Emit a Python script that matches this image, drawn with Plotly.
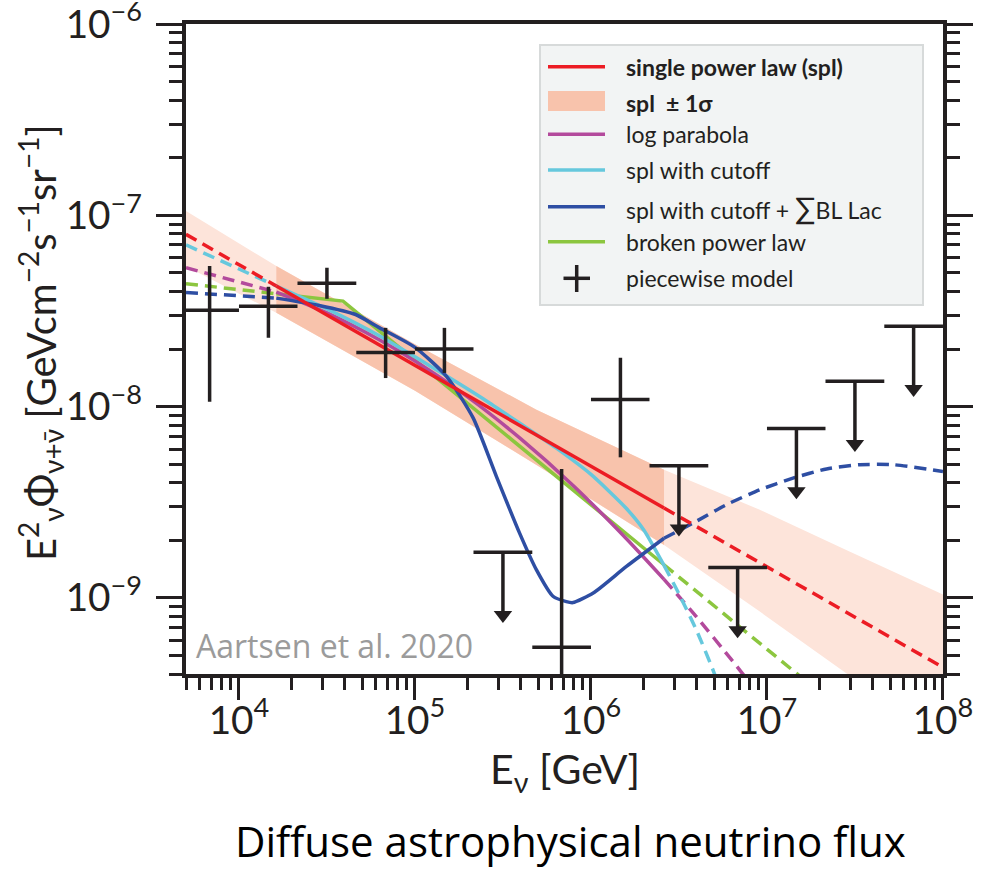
import numpy as np
import plotly.graph_objects as go

# ---------------- data (E in GeV, E^2*flux in GeV cm^-2 s^-1 sr^-1) ----------------
E_SENS_LO = 1.63e4   # sensitive energy range (solid lines / dark band)
E_SENS_HI = 2.6e6

spl_E = [5.0e3, 1.63e4, 1.0e5, 1.0e6, 2.6e6, 1.0e8]
spl_F = [7.95e-8, 4.27e-8, 1.64e-8, 4.89e-9, 2.95e-9, 4.33e-10]

band_E = [5.0e3, 1.63e4, 1.0e5, 4.9e5, 2.6e6, 9.1e6, 2.82e7, 1.0e8]
band_hi = [1.053e-7, 5.43e-8, 2.12e-8, 9.64e-9, 4.68e-9, 2.89e-9, 1.78e-9, 1.04e-9]
band_lo = [5.41e-8, 3.09e-8, 1.21e-8, 4.95e-9, 1.89e-9, 8.48e-10, 4.04e-10, 1.80e-10]

lp_E = [5.0e3, 1.63e4, 3.16e4, 6.3e4, 1.0e5, 2.0e5, 3.98e5, 7.94e5, 1.58e6, 2.6e6, 3.98e6, 6.3e6, 7.94e6]
lp_F = [5.32e-8, 3.97e-8, 3.09e-8, 2.23e-8, 1.73e-8, 1.12e-8, 6.8e-9, 3.86e-9, 2.05e-9, 1.25e-9, 7.95e-10, 4.74e-10, 3.62e-10]

cut_E = [5.0e3, 1.63e4, 3.16e4, 6.3e4, 1.0e5, 1.58e5, 2.51e5, 3.98e5, 6.3e5, 1.0e6, 1.58e6, 2.0e6, 2.6e6, 3.16e6, 3.98e6, 5.0e6, 5.6e6]
cut_F = [7.0e-8, 4.27e-8, 3.24e-8, 2.34e-8, 1.82e-8, 1.41e-8, 1.08e-8, 8.13e-9, 6.10e-9, 4.42e-9, 2.95e-9, 2.26e-9, 1.48e-9, 1.05e-9, 6.76e-10, 4.07e-10, 3.02e-10]

bll_E = [5.0e3, 1.63e4, 2.85e4, 4.6e4, 6.3e4, 1.0e5, 1.51e5, 2.14e5, 2.9e5, 3.93e5, 4.9e5, 6.08e5, 7.25e5, 7.9e5,
         1.03e6, 1.59e6, 2.6e6, 3.8e6, 5.88e6, 9.09e6, 1.405e7, 2.18e7, 3.36e7, 5.2e7, 1.0e8]
bll_F = [3.95e-8, 3.69e-8, 3.38e-8, 3.03e-8, 2.58e-8, 2.04e-8, 1.44e-8, 8.73e-9, 4.32e-9, 2.18e-9, 1.40e-9, 1.02e-9, 9.56e-10, 9.45e-10,
         1.06e-9, 1.46e-9, 2.05e-9, 2.46e-9, 3.07e-9, 3.67e-9, 4.23e-9, 4.72e-9, 4.97e-9, 4.97e-9, 4.58e-9]

bpl_E = [5.0e3, 1.63e4, 3.9e4, 2.6e6, 1.78e7]
bpl_F = [4.39e-8, 3.89e-8, 3.56e-8, 1.49e-9, 3.49e-10]

# piecewise model: measured bins
pw_E = [6.81e3, 1.47e4, 3.16e4, 6.81e4, 1.47e5, 6.81e5, 1.47e6]
pw_Elo = [4.64e3, 1.0e4, 2.15e4, 4.64e4, 1.0e5, 4.64e5, 1.0e6]
pw_Ehi = [1.0e4, 2.15e4, 4.64e4, 1.0e5, 2.15e5, 1.0e6, 2.15e6]
pw_F = [3.19e-8, 3.35e-8, 4.41e-8, 1.92e-8, 2.0e-8, 5.52e-10, 1.09e-8]
pw_Fup = [5.43e-8, 4.23e-8, 5.32e-8, 2.58e-8, 2.58e-8, 4.72e-9, 1.80e-8]
pw_Fdn = [1.06e-8, 2.29e-8, 3.66e-8, 1.41e-8, 1.50e-8, 1.0e-12, 5.43e-9]

# piecewise model: upper limits
ul_E = [3.16e5, 3.16e6, 6.81e6, 1.47e7, 3.16e7, 6.81e7]
ul_Elo = [2.15e5, 2.15e6, 4.64e6, 1.0e7, 2.15e7, 4.64e7]
ul_Ehi = [4.64e5, 4.64e6, 1.0e7, 2.15e7, 4.64e7, 1.0e8]
ul_F = [1.73e-9, 4.91e-9, 1.44e-9, 7.69e-9, 1.355e-8, 2.63e-8]

# ---------------- styles ----------------
C_RED = "#ec1c24"
C_CYAN = "#66c8dd"
C_MAG = "#b34a9c"
C_BLUE = "#2e4ea3"
C_GREEN = "#8cc63f"
C_BLACK = "#231f20"
C_BAND_DARK = "#f8c3ac"
C_BAND_LIGHT = "#fde4da"
LW = 3.5
DASH = "12px,7px"
ARROW_STEM = 0.33   # decades
ARROW_HEAD = 0.328  # decades (marker centre)

PL, PR, PT, PB = 186, 943, 24, 674
W, H = 999, 869


def px(x):
    return (x - PL) / (PR - PL)


def py(y):
    return 1 - (y - PT) / (PB - PT)


def split(E, F):
    lo = [(e, f) for e, f in zip(E, F) if e <= E_SENS_LO]
    mid = [(e, f) for e, f in zip(E, F) if E_SENS_LO <= e <= E_SENS_HI]
    hi = [(e, f) for e, f in zip(E, F) if e >= E_SENS_HI]
    return lo, mid, hi


fig = go.Figure()

# band (light full, dark in sensitive range)
fig.add_trace(go.Scatter(x=band_E + band_E[::-1], y=band_hi + band_lo[::-1], fill="toself",
                         fillcolor=C_BAND_LIGHT, line=dict(width=0), mode="lines", hoverinfo="skip"))
idx = [i for i, e in enumerate(band_E) if E_SENS_LO <= e <= E_SENS_HI]
bE = [band_E[i] for i in idx]
fig.add_trace(go.Scatter(x=bE + bE[::-1], y=[band_hi[i] for i in idx] + [band_lo[i] for i in idx][::-1],
                         fill="toself", fillcolor=C_BAND_DARK, line=dict(width=0), mode="lines", hoverinfo="skip"))

curves = [
    (bpl_E, bpl_F, C_GREEN, "linear"),
    (lp_E, lp_F, C_MAG, "spline"),
    (cut_E, cut_F, C_CYAN, "spline"),
    (bll_E, bll_F, C_BLUE, "spline"),
    (spl_E, spl_F, C_RED, "linear"),
]
for E, F, col, shape in curves:
    lo, mid, hi = split(E, F)
    for seg, dash in ((lo, DASH), (mid, "solid"), (hi, DASH)):
        if len(seg) < 2:
            continue
        fig.add_trace(go.Scatter(x=[s[0] for s in seg], y=[s[1] for s in seg], mode="lines",
                                 line=dict(color=col, width=LW, dash=dash, shape=shape, smoothing=0.6),
                                 hoverinfo="skip"))

# crosses
cx, cy = [], []
for e, elo, ehi, f, fu, fd in zip(pw_E, pw_Elo, pw_Ehi, pw_F, pw_Fup, pw_Fdn):
    cx += [elo, ehi, None, e, e, None]
    cy += [f, f, None, fd, fu, None]
fig.add_trace(go.Scatter(x=cx, y=cy, mode="lines", line=dict(color=C_BLACK, width=LW), hoverinfo="skip"))

# upper limits
ux, uy = [], []
for e, elo, ehi, f in zip(ul_E, ul_Elo, ul_Ehi, ul_F):
    ux += [elo, ehi, None, e, e, None]
    uy += [f, f, None, f, f * 10 ** (-ARROW_STEM), None]
fig.add_trace(go.Scatter(x=ux, y=uy, mode="lines", line=dict(color=C_BLACK, width=LW), hoverinfo="skip"))
fig.add_trace(go.Scatter(x=ul_E, y=[f * 10 ** (-ARROW_HEAD) for f in ul_F], mode="markers",
                         marker=dict(symbol="triangle-down", size=16, color=C_BLACK, line=dict(width=0)),
                         hoverinfo="skip"))

# ---------------- layout ----------------
tickfont = dict(family="Liberation Sans Narrow, Lato", size=31, color=C_BLACK)
axis_common = dict(type="log", dtick=1, exponentformat="power", showexponent="all", automargin=False,
                   ticks="outside", tickwidth=3, tickcolor=C_BLACK, showgrid=False, zeroline=False,
                   linecolor=C_BLACK, linewidth=3.5, tickfont=tickfont, ticklabeloverflow="allow",
                   minor=dict(ticks="outside", tickwidth=3, tickcolor=C_BLACK, showgrid=False))

fig.update_xaxes(**axis_common, range=[np.log10(5e3), 8.0001], ticklen=22, mirror=True, ticklabelstandoff=-11)
fig.update_xaxes(minor_ticklen=12)
fig.update_yaxes(**axis_common, range=[np.log10(4e-10), -5.9999], ticklen=26, mirror="ticks", ticklabelstandoff=8)
fig.update_yaxes(minor_ticklen=13)

shapes = []
annotations = []
# legend box
shapes.append(dict(type="rect", xref="paper", yref="paper", x0=px(540), x1=px(923), y0=py(45), y1=py(305),
                   fillcolor="#f2f4f4", line=dict(color="#d7dada", width=2), layer="above"))
rows = [66.7, 102.7, 134.3, 170, 206.7, 241.7, 278.3]
labels = ["<b>single power law (spl)</b>", "<b>spl  ± 1σ</b>", "log parabola", "spl with cutoff",
          "spl with cutoff + <span style='font-size:30px'>∑</span>BL Lac", "broken power law", "piecewise model"]
line_cols = [C_RED, None, C_MAG, C_CYAN, C_BLUE, C_GREEN, None]
for r, lab, col in zip(rows, labels, line_cols):
    if col is not None:
        shapes.append(dict(type="line", xref="paper", yref="paper", x0=px(548), x1=px(605), y0=py(r), y1=py(r),
                           line=dict(color=col, width=LW), layer="above"))
    annotations.append(dict(xref="paper", yref="paper", x=px(624), y=py(r), text=lab, showarrow=False,
                            xanchor="left", yanchor="middle", font=dict(family="Lato", size=23, color=C_BLACK)))
shapes.append(dict(type="rect", xref="paper", yref="paper", x0=px(548), x1=px(605), y0=py(91), y1=py(111),
                   fillcolor=C_BAND_DARK, line=dict(width=0), layer="above"))
shapes.append(dict(type="line", xref="paper", yref="paper", x0=px(563.5), x1=px(590), y0=py(278.3), y1=py(278.3),
                   line=dict(color=C_BLACK, width=LW), layer="above"))
shapes.append(dict(type="line", xref="paper", yref="paper", x0=px(576.7), x1=px(576.7), y0=py(265), y1=py(292),
                   line=dict(color=C_BLACK, width=LW), layer="above"))

annotations += [
    dict(xref="paper", yref="paper", x=px(194), y=py(645), text="Aartsen et al. 2020", showarrow=False,
         xanchor="left", yanchor="middle", font=dict(family="Open Sans", size=32, color="#9b9b9b")),
    dict(xref="paper", yref="paper", x=px(565), y=py(771), text="E<sub>ν</sub> [GeV]", showarrow=False,
         xanchor="center", yanchor="middle", font=dict(family="Lato", size=41, color=C_BLACK)),
    dict(xref="paper", yref="paper", x=px(40), y=py(343),
         text="E<sup>2</sup><sub>ν</sub>Φ<sub>ν+ν̄</sub> [GeVcm<sup>−2</sup>s<sup>−1</sup>sr<sup>−1</sup>]",
         showarrow=False, textangle=-90, xanchor="center", yanchor="middle",
         font=dict(family="Lato", size=40, color=C_BLACK)),
    dict(xref="paper", yref="paper", x=px(570), y=py(840), text="Diffuse astrophysical neutrino flux",
         showarrow=False, xanchor="center", yanchor="middle", font=dict(family="Open Sans", size=42, color="#000000")),
]

fig.update_layout(width=W, height=H, margin=dict(l=PL, r=W - PR, t=PT, b=H - PB, autoexpand=False),
                  paper_bgcolor="white", plot_bgcolor="white", showlegend=False,
                  shapes=shapes, annotations=annotations)

fig.write_html("out.html")
